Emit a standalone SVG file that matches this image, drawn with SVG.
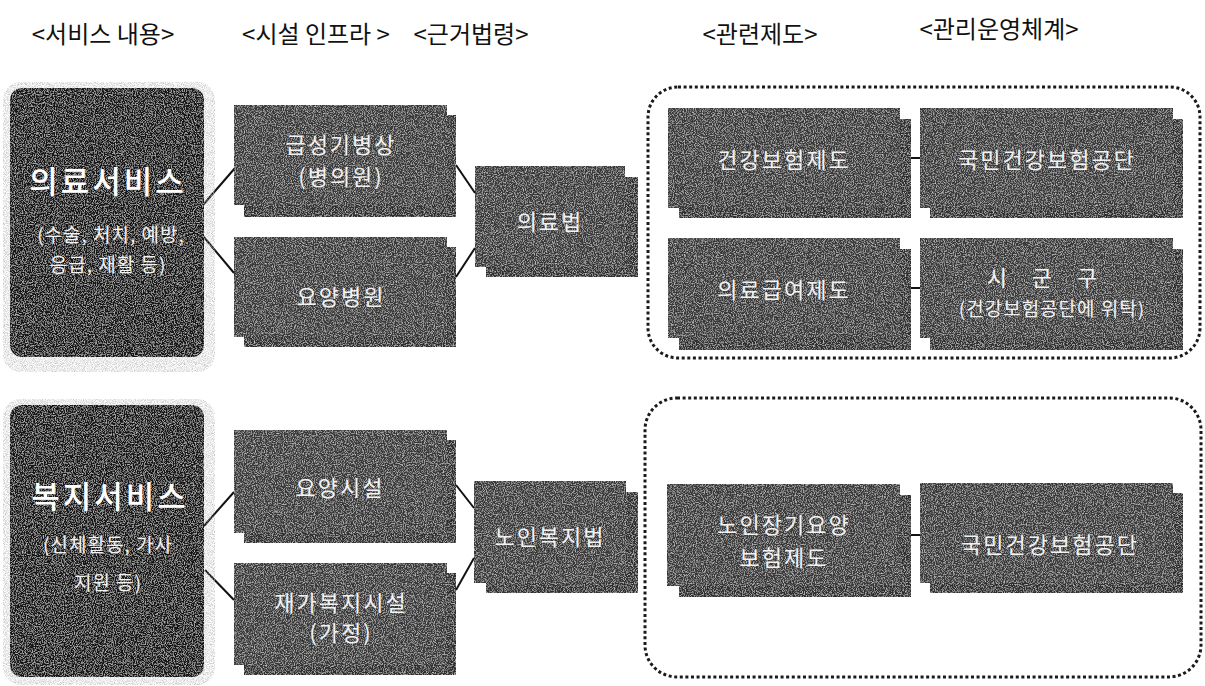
<svg xmlns="http://www.w3.org/2000/svg" width="1205" height="686" viewBox="0 0 1205 686">
<defs>
<filter id="grain" x="0" y="0" width="100%" height="100%">
<feTurbulence type="fractalNoise" baseFrequency="0.9" numOctaves="2" seed="4" result="n"/>
<feColorMatrix in="n" type="matrix" values="0 0 0 0 0.85  0 0 0 0 0.85  0 0 0 0 0.85  1.6 0 0 0 -0.72" result="w"/>
<feComposite in="w" in2="SourceGraphic" operator="in" result="ws"/>
<feMerge><feMergeNode in="SourceGraphic"/><feMergeNode in="ws"/></feMerge>
</filter>
<filter id="glow" x="-10%" y="-10%" width="120%" height="120%">
<feTurbulence type="fractalNoise" baseFrequency="1.1" numOctaves="1" seed="7" result="n"/>
<feColorMatrix in="n" type="matrix" values="0 0 0 0 0.45  0 0 0 0 0.45  0 0 0 0 0.45  2 0 0 0 -0.75" result="d"/>
<feComposite in="d" in2="SourceGraphic" operator="in"/>
</filter>
</defs>
<style>
text{font-family:"Noto Sans CJK KR","Noto Sans",sans-serif;text-anchor:middle}
.hd{font-size:24px;fill:#111}
.bk{fill:#2e2e2e;filter:url(#grain)}
.fr{fill:#383838;filter:url(#grain)}
.svc{fill:#141414;filter:url(#grain)}
.halo{fill:#bdbdbd;filter:url(#glow)}
.bt{font-size:22px;fill:#f2f2f2;letter-spacing:2px}
.bs{font-size:19px;fill:#f2f2f2;letter-spacing:1px}
.big{font-size:31px;fill:#ffffff;letter-spacing:3px;font-weight:500}
.dot{fill:none;stroke:#1a1a1a;stroke-width:3;stroke-dasharray:3 2.6}
.cn{stroke:#111;stroke-width:2;fill:none}
</style>
<rect width="1205" height="686" fill="#ffffff"/>

<g id="headers">
<text class="hd" x="103" y="43">&lt;서비스 내용&gt;</text>
<text class="hd" x="316" y="43">&lt;시설 인프라 &gt;</text>
<text class="hd" x="471" y="43">&lt;근거법령&gt;</text>
<text class="hd" x="760" y="43">&lt;관련제도&gt;</text>
<text class="hd" x="999" y="38">&lt;관리운영체계&gt;</text>
</g>

<g id="groups">
<rect class="dot" x="648" y="87" width="552" height="271" rx="30"/>
<rect class="dot" x="645" y="398" width="556" height="279" rx="32"/>
</g>

<g id="connectors">
<line class="cn" x1="203" y1="205" x2="235" y2="168"/>
<line class="cn" x1="203" y1="236" x2="234" y2="273"/>
<line class="cn" x1="456" y1="165" x2="475" y2="193"/>
<line class="cn" x1="456" y1="277" x2="475" y2="248"/>
<line class="cn" x1="910" y1="158" x2="921" y2="158"/>
<line class="cn" x1="910" y1="288" x2="921" y2="288"/>
<line class="cn" x1="203" y1="527" x2="234" y2="492"/>
<line class="cn" x1="205" y1="570" x2="234" y2="600"/>
<line class="cn" x1="456" y1="485" x2="474" y2="508"/>
<line class="cn" x1="456" y1="590" x2="474" y2="558"/>
<line class="cn" x1="910" y1="535" x2="921" y2="535"/>
</g>

<g id="n-medical-service">
<rect class="halo" x="3" y="82" width="212" height="290" rx="18"/>
<rect class="svc" x="10" y="88" width="194" height="269" rx="12"/>
<text class="big" x="108" y="193">의료서비스</text>
<text class="bs" x="111" y="242">(수술, 처치, 예방,</text>
<text class="bs" x="108" y="272">응급, 재활 등)</text>
</g>

<g id="n-acute">
<rect class="bk" x="244" y="115" width="212" height="102"/>
<rect class="fr" x="234" y="105" width="213" height="100"/>
<text class="bt" x="341" y="153">급성기병상</text>
<text class="bt" x="341" y="185">(병의원)</text>
</g>

<g id="n-nursing-hospital">
<rect class="bk" x="244" y="247" width="212" height="100"/>
<rect class="fr" x="234" y="237" width="213" height="100"/>
<text class="bt" x="341" y="305">요양병원</text>
</g>

<g id="n-medical-law">
<rect class="bk" x="486" y="177" width="152" height="100"/>
<rect class="fr" x="475" y="166" width="150" height="101"/>
<text class="bt" x="550" y="230">의료법</text>
</g>

<g id="n-health-insurance">
<rect class="bk" x="679" y="119" width="232" height="99"/>
<rect class="fr" x="668" y="108" width="232" height="100"/>
<text class="bt" x="784" y="168">건강보험제도</text>
</g>

<g id="n-nhis-1">
<rect class="bk" x="930" y="119" width="253" height="99"/>
<rect class="fr" x="920" y="108" width="253" height="100"/>
<text class="bt" x="1047" y="168">국민건강보험공단</text>
</g>

<g id="n-medical-aid">
<rect class="bk" x="679" y="249" width="232" height="101"/>
<rect class="fr" x="668" y="238" width="232" height="100"/>
<text class="bt" x="784" y="298">의료급여제도</text>
</g>

<g id="n-local-gov">
<rect class="bk" x="930" y="249" width="253" height="101"/>
<rect class="fr" x="920" y="238" width="253" height="100"/>
<text class="bt" x="1047" y="286" style="letter-spacing:10px">시 군 구</text>
<text class="bs" x="1052" y="316">(건강보험공단에 위탁)</text>
</g>

<g id="n-welfare-service">
<rect class="halo" x="3" y="399" width="212" height="286" rx="18"/>
<rect class="svc" x="10" y="405" width="194" height="272" rx="12"/>
<text class="big" x="110" y="508">복지서비스</text>
<text class="bs" x="108" y="552">(신체활동, 가사</text>
<text class="bs" x="108" y="590">지원 등)</text>
</g>

<g id="n-care-facility">
<rect class="bk" x="244" y="440" width="212" height="103"/>
<rect class="fr" x="234" y="430" width="213" height="103"/>
<text class="bt" x="340" y="496">요양시설</text>
</g>

<g id="n-home-welfare">
<rect class="bk" x="244" y="573" width="212" height="102"/>
<rect class="fr" x="234" y="563" width="213" height="102"/>
<text class="bt" x="341" y="611">재가복지시설</text>
<text class="bt" x="341" y="641">(가정)</text>
</g>

<g id="n-elderly-law">
<rect class="bk" x="486" y="492" width="152" height="101"/>
<rect class="fr" x="474" y="481" width="152" height="102"/>
<text class="bt" x="550" y="545">노인복지법</text>
</g>

<g id="n-ltc-insurance">
<rect class="bk" x="679" y="495" width="232" height="102"/>
<rect class="fr" x="667" y="484" width="233" height="102"/>
<text class="bt" x="784" y="533">노인장기요양</text>
<text class="bt" x="784" y="566">보험제도</text>
</g>

<g id="n-nhis-2">
<rect class="bk" x="930" y="493" width="253" height="100"/>
<rect class="fr" x="920" y="483" width="253" height="100"/>
<text class="bt" x="1050" y="553">국민건강보험공단</text>
</g>
</svg>
